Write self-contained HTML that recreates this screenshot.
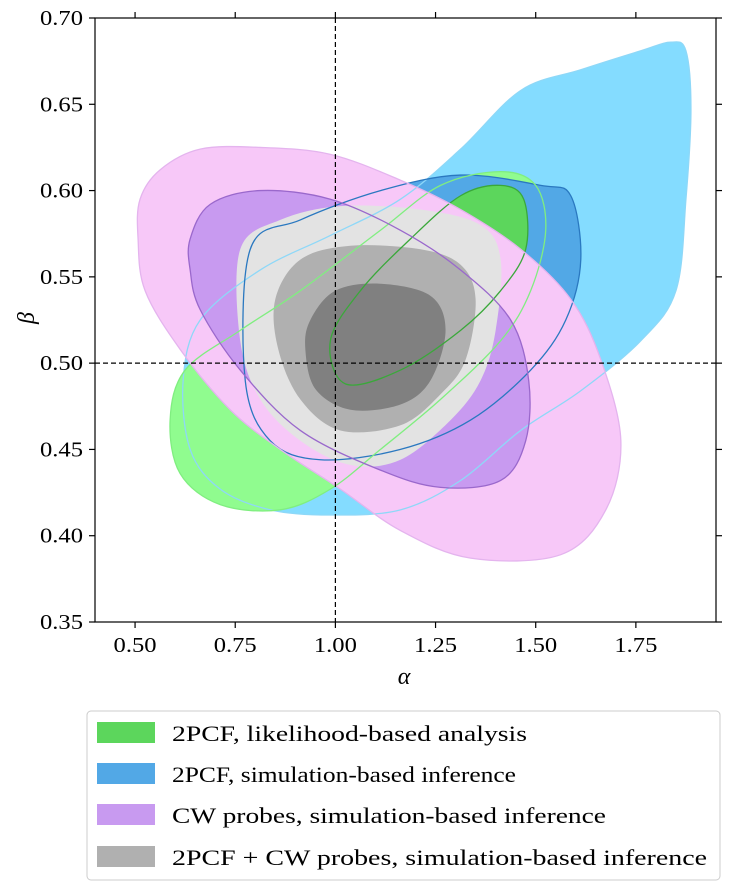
<!DOCTYPE html>
<html><head><meta charset="utf-8"><style>
body{margin:0;background:#fff;width:730px;height:891px;overflow:hidden}
svg text{font-family:"Liberation Serif",serif;fill:#000}
</style></head><body>
<svg id="chart" width="730" height="891" viewBox="0 0 730 891" xmlns="http://www.w3.org/2000/svg">
<g id="marks"></g>
<g id="axes"></g>
<g>
<rect x="87" y="711" width="633" height="169" rx="4" fill="#fff" stroke="#ccc"/>
<rect x="97" y="722" width="58" height="21" fill="#5cd65c"/>
<text x="172" y="741" font-size="22" textLength="355" lengthAdjust="spacingAndGlyphs">2PCF, likelihood-based analysis</text>
<rect x="97" y="763" width="58" height="21" fill="#52a8e6"/>
<text x="172" y="782" font-size="22" textLength="344" lengthAdjust="spacingAndGlyphs">2PCF, simulation-based inference</text>
<rect x="97" y="804" width="58" height="21" fill="#c89af0"/>
<text x="172" y="823" font-size="22" textLength="434" lengthAdjust="spacingAndGlyphs">CW probes, simulation-based inference</text>
<rect x="97" y="846" width="58" height="21" fill="#b0b0b0"/>
<text x="172" y="865" font-size="22" textLength="535" lengthAdjust="spacingAndGlyphs">2PCF + CW probes, simulation-based inference</text>
</g>
</svg>
<script>
const xTicks=[0.50,0.75,1.00,1.25,1.50,1.75];
const yTicks=[0.35,0.40,0.45,0.50,0.55,0.60,0.65,0.70];
const truthAlpha=1.0, truthBeta=0.5;
const blueOuter=[[0.62,0.49],[0.6625,0.525],[0.8125,0.554],[0.9875,0.574],[1.1625,0.595],[1.3125,0.624],[1.4625,0.658],[1.6125,0.67],[1.7625,0.681],[1.8375,0.686],[1.875,0.681],[1.8875,0.647],[1.875,0.595],[1.85,0.542],[1.7625,0.513],[1.6125,0.484],[1.4625,0.461],[1.3125,0.432],[1.1625,0.415],[0.9875,0.412],[0.8375,0.415],[0.7125,0.427],[0.6375,0.45]];
const blueInner=[[0.7875,0.566],[0.9125,0.583],[1.1125,0.600],[1.3125,0.609],[1.5125,0.603],[1.5875,0.597],[1.6125,0.560],[1.575,0.525],[1.4875,0.496],[1.3375,0.467],[1.1625,0.450],[0.9625,0.444],[0.8375,0.455],[0.775,0.490]];
const greenOuter=[[0.5875,0.467],[0.625,0.496],[0.7625,0.519],[0.9125,0.542],[1.1125,0.577],[1.2625,0.603],[1.4125,0.611],[1.5,0.603],[1.525,0.577],[1.4875,0.542],[1.4125,0.513],[1.2625,0.479],[1.1125,0.450],[0.9875,0.427],[0.8625,0.415],[0.7125,0.418],[0.6125,0.436]];
const greenInner=[[0.9875,0.513],[1.0625,0.542],[1.1875,0.572],[1.3125,0.597],[1.4125,0.603],[1.47,0.595],[1.475,0.566],[1.4125,0.542],[1.3125,0.519],[1.1625,0.496],[1.025,0.488]];
const pinkOuter=[[0.5125,0.595],[0.5625,0.612],[0.6625,0.624],[0.8125,0.625],[0.9875,0.621],[1.1625,0.606],[1.3125,0.589],[1.4625,0.566],[1.5875,0.537],[1.6625,0.502],[1.7125,0.455],[1.675,0.415],[1.5625,0.389],[1.3375,0.387],[1.1625,0.403],[1.0125,0.427],[0.8625,0.450],[0.7375,0.473],[0.6125,0.508],[0.525,0.542],[0.5075,0.572]];
const pinkInner=[[0.6375,0.572],[0.6875,0.592],[0.8125,0.600],[0.9875,0.595],[1.1625,0.577],[1.3125,0.554],[1.4375,0.525],[1.4825,0.490],[1.475,0.455],[1.4125,0.432],[1.2625,0.428],[1.1125,0.438],[0.9125,0.461],[0.7625,0.496],[0.6625,0.531],[0.6375,0.554]];
const grayOuter=[[0.7625,0.566],[0.8625,0.583],[1.0125,0.591],[1.2125,0.589],[1.3625,0.580],[1.4125,0.560],[1.4,0.519],[1.3625,0.490],[1.2875,0.467],[1.1625,0.444],[1.0375,0.441],[0.9125,0.455],[0.8125,0.479],[0.7625,0.513]];
const grayMid=[[0.85,0.537],[0.9125,0.560],[1.0375,0.568],[1.2125,0.566],[1.3125,0.557],[1.35,0.537],[1.325,0.502],[1.2625,0.482],[1.1625,0.464],[1.0125,0.461],[0.9125,0.479],[0.8575,0.508]];
const grayInner=[[0.9375,0.525],[1.0,0.542],[1.1125,0.546],[1.2375,0.539],[1.275,0.519],[1.2375,0.490],[1.1625,0.476],[1.0375,0.473],[0.95,0.485],[0.925,0.508]];

const X0=95,X1=716,Y0=18,Y1=622;
const xs=a=>X0+(a-0.4)/(1.95-0.4)*(X1-X0);
const ys=b=>Y1-(b-0.35)/(0.70-0.35)*(Y1-Y0);
const NS='http://www.w3.org/2000/svg';
const marks=document.getElementById('marks'),axes=document.getElementById('axes');
function smooth(pts){
  const p=pts.map(d=>[xs(d[0]),ys(d[1])]);const n=p.length;let s=`M${p[0][0]},${p[0][1]}`;
  for(let i=0;i<n;i++){const p0=p[(i-1+n)%n],p1=p[i],p2=p[(i+1)%n],p3=p[(i+2)%n];
    s+=`C${p1[0]+(p2[0]-p0[0])/6},${p1[1]+(p2[1]-p0[1])/6} ${p2[0]-(p3[0]-p1[0])/6},${p2[1]-(p3[1]-p1[1])/6} ${p2[0]},${p2[1]}`;}
  return s+'Z';}
function contour(pts,fill,stroke,name,parent){
  const el=document.createElementNS(NS,'path');
  el.setAttribute('d',smooth(pts));el.setAttribute('fill',fill);
  if(stroke){el.setAttribute('stroke',stroke);el.setAttribute('stroke-width','1.3');}
  
  
  (parent||marks).appendChild(el);}
contour(blueOuter,'#84dcff',null,'contour-2pcf-sbi-95');
contour(greenOuter,'#90fc8f',null,'contour-2pcf-likelihood-95');
contour(blueInner,'#52a8e6',null,'contour-2pcf-sbi-68');
contour(greenInner,'#5cd65c',null,'contour-2pcf-likelihood-68');
contour(pinkOuter,'#f7c8f8',null,'contour-cw-sbi-95');
contour(pinkInner,'#c89af0',null,'contour-cw-sbi-68');
contour(grayOuter,'#e3e3e3',null,'contour-combined-95');
contour(grayMid,'#b0b0b0',null,'contour-combined-68');
contour(grayInner,'#808080',null,'contour-combined-38');
contour(blueOuter,'none','#8ed8f8','line-2pcf-sbi-95');
contour(blueInner,'none','#2a78c0','line-2pcf-sbi-68');
contour(greenOuter,'none','#80ee80','line-2pcf-likelihood-95');
contour(greenInner,'none','#3aa83a','line-2pcf-likelihood-68');
contour(pinkOuter,'none','#e4b4ee','line-cw-sbi-95');
contour(pinkInner,'none','#9a68cc','line-cw-sbi-68');
function line(x1,y1,x2,y2,name,dash){const l=document.createElementNS(NS,'line');
  l.setAttribute('x1',x1);l.setAttribute('y1',y1);l.setAttribute('x2',x2);l.setAttribute('y2',y2);
  l.setAttribute('stroke','#000');l.setAttribute('stroke-width','1.2');if(dash)l.setAttribute('stroke-dasharray',dash);
  
  
  axes.appendChild(l);}
function text(x,y,s,name,size,anchor,italic,len){const t=document.createElementNS(NS,'text');
  t.setAttribute('x',x);t.setAttribute('y',y);t.setAttribute('font-size',size);t.setAttribute('text-anchor',anchor);
  if(italic)t.setAttribute('font-style','italic');
  if(len){t.setAttribute('textLength',len);t.setAttribute('lengthAdjust','spacingAndGlyphs');}
  t.textContent=s;
  
  
  axes.appendChild(t);return t;}
line(xs(truthAlpha),Y0,xs(truthAlpha),Y1,'truth-alpha-line','5,3');
line(X0,ys(truthBeta),X1,ys(truthBeta),'truth-beta-line','5,3');
const frame=document.createElementNS(NS,'rect');
frame.setAttribute('x',X0);frame.setAttribute('y',Y0);frame.setAttribute('width',X1-X0);frame.setAttribute('height',Y1-Y0);
frame.setAttribute('fill','none');frame.setAttribute('stroke','#000');frame.setAttribute('stroke-width','1.2');


axes.appendChild(frame);
xTicks.forEach(v=>{const x=xs(v);line(x,Y1,x,Y1+6,'x-tick');line(x,Y0,x,Y0-6,'x-tick-top');
  text(x,Y1+30,v.toFixed(2),'x-tick-label',21,'middle',false,43);});
yTicks.forEach(v=>{const y=ys(v);line(X0,y,X0-6,y,'y-tick');line(X1,y,X1+6,y,'y-tick-right');
  text(X0-12,y+7,v.toFixed(2),'y-tick-label',21,'end',false,43);});
text(404,684,'α','x-axis-title',24,'middle',true);
const yl=text(0,0,'β','y-axis-title',24,'middle',true);yl.setAttribute('transform','translate(34,318) rotate(-90)');
</script>
</body></html>
